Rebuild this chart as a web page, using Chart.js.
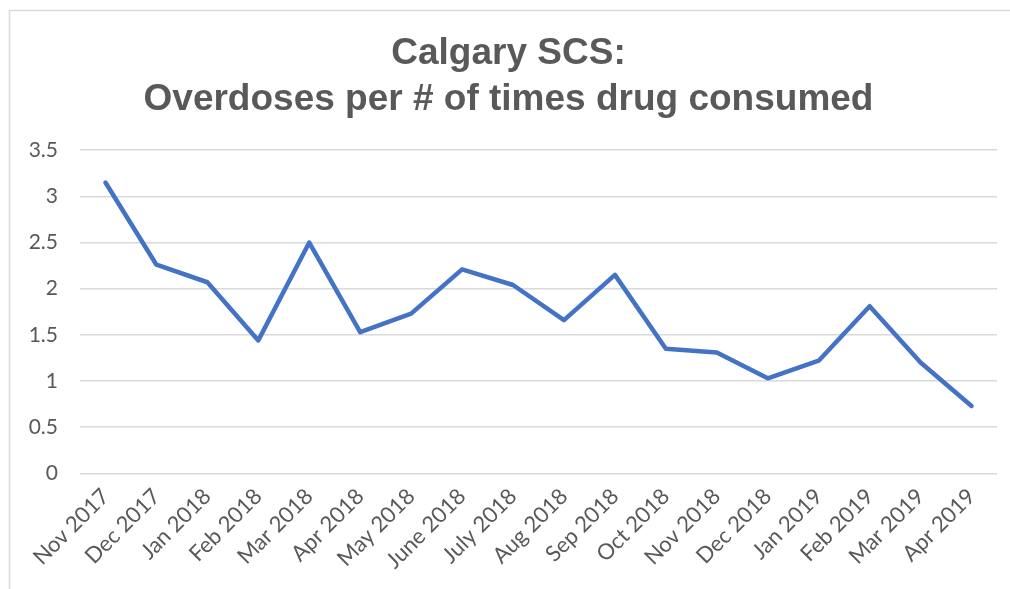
<!DOCTYPE html>
<html>
<head>
<meta charset="utf-8">
<script src="https://cdn.jsdelivr.net/npm/chart.js@4/dist/chart.umd.min.js"></script>
<style>
  html, body { margin: 0; padding: 0; background: #fff; }
  #wrap { width: 1010px; height: 589px; position: relative; }
</style>
</head>
<body>
<div id="wrap"><canvas id="myChart" width="1010" height="589"></canvas></div>
<script>
// data
const months = ['Nov 2017', 'Dec 2017', 'Jan 2018', 'Feb 2018', 'Mar 2018', 'Apr 2018',
  'May 2018', 'June 2018', 'July 2018', 'Aug 2018', 'Sep 2018', 'Oct 2018',
  'Nov 2018', 'Dec 2018', 'Jan 2019', 'Feb 2019', 'Mar 2019', 'Apr 2019'];
const overdoses = [3.15, 2.26, 2.07, 1.44, 2.50, 1.53, 1.73, 2.21, 2.04, 1.66, 2.15, 1.35,
  1.31, 1.03, 1.22, 1.81, 1.20, 0.73];
const titleLines = ['Calgary SCS:', 'Overdoses per # of times drug consumed'];
const yMin = 0, yMax = 3.5, yStep = 0.5;

const grey = '#595959';

// outer frame like the office chart area
const framePlugin = {
  id: 'frame',
  beforeDraw(chart) {
    const ctx = chart.ctx;
    ctx.save();
    ctx.fillStyle = '#fff';
    ctx.fillRect(0, 0, chart.width, chart.height);
    ctx.strokeStyle = '#d9d9d9';
    ctx.lineWidth = 1.5;
    ctx.strokeRect(9.5, 10.5, 1100, 700);
    ctx.restore();
  }
};

const chart = new Chart(
  document.getElementById('myChart'),
  {
    type: 'line',
    data: {
      labels: months,
      datasets: [{
        label: 'Overdoses',
        data: overdoses,
        borderColor: '#4472C4',
        borderWidth: 4.5,
        pointRadius: 0,
        tension: 0,
        borderCapStyle: 'round',
        borderJoinStyle: 'round'
      }]
    },
    options: {
      responsive: false,
      animation: false,
      layout: { padding: { left: 20, right: 13, top: 30, bottom: 13 } },
      plugins: {
        legend: { display: false },
        tooltip: { enabled: false },
        title: {
          display: true,
          text: titleLines,
          color: grey,
          font: { family: '"Liberation Sans", Arial, sans-serif', size: 37, weight: 'bold', lineHeight: 1.26 },
          padding: { top: 0, bottom: 27 }
        }
      },
      scales: {
        x: {
          offset: true,
          grid: { display: false },
          border: { display: false },
          ticks: {
            color: grey,
            font: { family: 'Lato, "Open Sans", sans-serif', size: 22 },
            maxRotation: 45,
            minRotation: 45,
            autoSkip: false,
            padding: 2
          }
        },
        y: {
          min: yMin,
          max: yMax,
          afterFit(scale) { scale.width = 60; },
          grid: { color: '#d9d9d9', lineWidth: 1.5, drawTicks: false },
          border: { display: false },
          ticks: {
            stepSize: yStep,
            color: grey,
            font: { family: 'Lato, "Open Sans", sans-serif', size: 21 },
            padding: 22,
            callback: (v) => String(v)
          }
        }
      }
    },
    plugins: [framePlugin]
  });
</script>
</body>
</html>
